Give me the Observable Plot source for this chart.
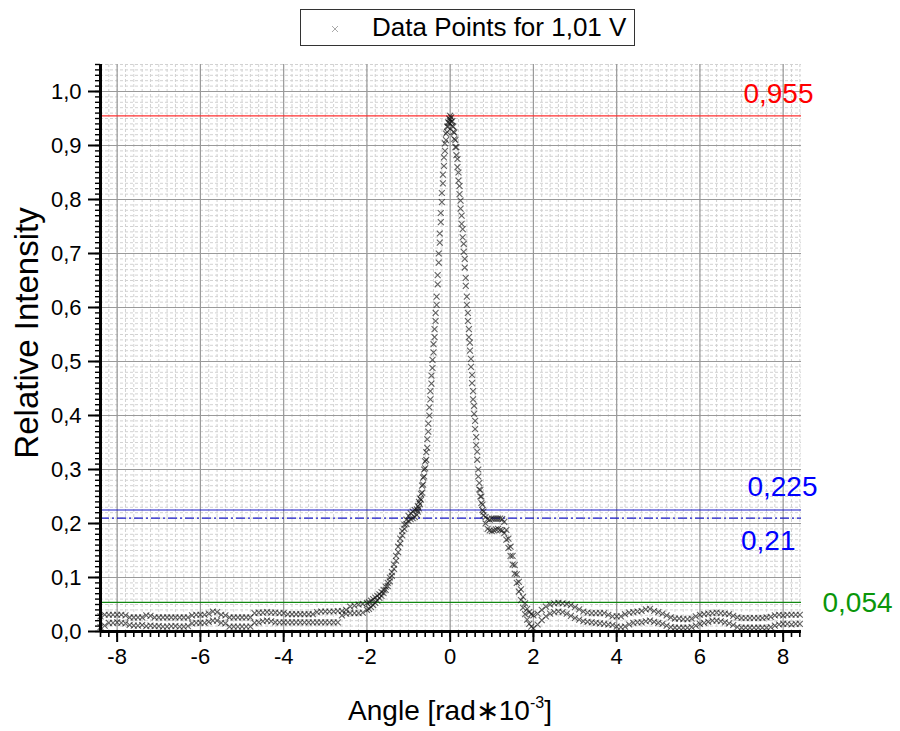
<!DOCTYPE html>
<html>
<head>
<meta charset="utf-8">
<script src="https://cdn.jsdelivr.net/npm/d3@7"></script>
<script src="https://cdn.jsdelivr.net/npm/@observablehq/plot@0.6"></script>
<style>
  body { margin: 0; background: #fff; }
  #wrap { position: relative; width: 900px; height: 731px; font-family: "Liberation Sans", Arial, sans-serif; }
  #legend { position: absolute; left: 300px; top: 9px; width: 333px; height: 35px; border: 1px solid #333; background: #fff; }
  #legend svg { position: absolute; left: 28px; top: 13px; }
  #legend span { position: absolute; left: 71px; top: 2px; font-size: 26px; line-height: 30px; color: #000; white-space: nowrap; }
</style>
</head>
<body>
<div id="wrap">
  <div id="legend"><svg width="12" height="12"><path d="M3,3L9,9M9,3L3,9" stroke="#aaa" stroke-width="1"/></svg><span id="legendText"></span></div>
</div>
<script>
// ---------- data ----------
const legendLabel = "Data Points for 1,01 V";

const leftAngles = [-8.4,-8.3,-8.2,-8.1,-8,-7.9,-7.8,-7.7,-7.6,-7.5,-7.4,-7.3,-7.2,-7.1,-7,-6.9,-6.8,-6.7,-6.6,-6.5,-6.4,-6.3,-6.2,-6.1,-6,-5.9,-5.8,-5.7,-5.6,-5.5,-5.4,-5.3,-5.2,-5.1,-5,-4.9,-4.8,-4.7,-4.6,-4.5,-4.4,-4.3,-4.2,-4.1,-4,-3.9,-3.8,-3.7,-3.6,-3.5,-3.4,-3.3,-3.2,-3.1,-3,-2.9,-2.8,-2.7,-2.6,-2.5,-2.4,-2.3,-2.2,-2.1,-2];
const leftUpper = [0.028,0.031,0.031,0.031,0.031,0.031,0.030,
  0.026,0.026,0.026,0.026, 0.030,0.029,
  0.026,0.026,0.026,0.026,0.026,0.026,0.026,0.026,0.026,
  0.030,0.031,0.031,0.031,0.033, 0.037,0.036,0.031,0.030,
  0.026,0.026,0.026,0.026,0.026,0.026,
  0.034,0.035,0.035,0.036,0.035,0.035,0.034,0.034,
  0.032,0.032,0.032,0.032,0.032,0.032,0.032,
  0.036,0.037,0.037,0.037,0.037,0.038,0.038,0.040,
  0.046,0.048,0.050,0.051, 0.053];
const leftLower = [0.008,0.011,
  0.016,0.016,0.017,0.016,0.015,
  0.012,0.011,0.011,0.012,
  0.010,0.011,0.010,0.010,0.009,0.009,0.010,0.010,0.009,0.009,0.010,
  0.015,0.016,0.016,0.016,0.018,0.020,0.020,0.016,0.015,
  0.009,0.009,0.009,0.009,0.009,0.009,
  0.016,0.017,0.019,0.020,0.019,0.017,0.017,0.017,0.017,0.017,0.017,0.017,0.017,0.017,
  0.017,0.017,0.017,0.017,0.017,0.017,0.017,
  0.030,0.033,0.034,0.034,0.034,0.035, 0.040];

const midLeftAngles = [-1.95,-1.9,-1.85,-1.8,-1.75,-1.7,-1.65,-1.6,-1.55,-1.5,-1.45,-1.4,-1.35,-1.3,-1.25,-1.2,-1.15,-1.1,-1.05,-1,-0.95,-0.9,-0.85,-0.8];
const midLeftUpper = [0.054,0.057,0.060,0.063,0.066,0.069,0.073,0.077,0.083,0.090,0.100,0.110,0.124,0.140,0.157,0.172,0.186,0.198,0.207,0.214,0.219,0.222,0.225,0.226];
const midLeftLower = [0.042,0.045,0.049,0.053,0.057,0.062,0.066,0.071,0.077,0.084,0.093,0.103,0.116,0.131,0.147,0.163,0.178,0.190,0.199,0.205,0.208,0.210,0.212,0.216];

const peakAngles = [-0.775,-0.75,-0.725,-0.7,-0.675,-0.65,-0.625,-0.6,-0.575,-0.55,-0.525,-0.5,-0.475,-0.45,-0.425,-0.4,-0.375,-0.35,-0.325,-0.3,-0.275,-0.25,-0.225,-0.2,-0.175,-0.15,-0.125,-0.1,-0.075,-0.05,-0.025,0,0.025,0.05,0.075,0.1,0.125,0.15,0.175,0.2,0.225,0.25,0.275,0.3,0.325,0.35,0.375,0.4,0.425,0.45,0.475,0.5,0.525,0.55,0.575,0.6,0.625,0.65,0.675,0.7,0.725,0.75,0.775];
const peakUpper = [0.232,0.240,0.246,0.255,0.270,0.285,0.300,0.315,0.332,0.356,
  0.385,0.415,0.445,0.474,0.503,0.532,0.560,0.590,0.620,0.660,
  0.700,0.737,0.775,0.812,0.846,0.878,0.904,0.922,0.935,0.943,
  0.950,0.955,0.952,0.945,0.935,0.924,0.910,0.897,0.875,0.850,
  0.825,0.798,0.770,0.745,0.718,0.690,0.655,0.620,0.590,0.560,
  0.535,0.505,0.475,0.445,0.418,0.390,0.360,0.333,0.300,0.275,
  0.262,0.250,0.235];
const peakLower = [0.222,0.228,0.236,0.244,0.257,0.272,0.287,0.302,0.318,0.340,
  0.370,0.400,0.430,0.459,0.488,0.517,0.545,0.575,0.605,0.643,
  0.683,0.720,0.758,0.795,0.830,0.862,0.890,0.910,0.925,0.935,
  0.942,0.948,0.944,0.936,0.925,0.912,0.897,0.882,0.860,0.835,
  0.810,0.783,0.755,0.730,0.703,0.674,0.640,0.605,0.575,0.545,
  0.520,0.490,0.460,0.430,0.403,0.375,0.345,0.318,0.287,0.263,
  0.250,0.238,0.225];

const midRightAngles = [0.8,0.85,0.9,0.95,1,1.05,1.1,1.15,1.2,1.25,1.3,1.35,1.4,1.45,1.5,1.55,1.6,1.65,1.7,1.75,1.8,1.85,1.9,1.95];
const midRightUpper = [0.222,0.212,0.208,0.207,0.209,0.209,0.209,0.209,0.209,0.208,0.203,0.188,0.172,0.157,0.140,0.123,0.106,0.092,0.078,0.064,0.052,0.042,0.036,0.032];
const midRightLower = [0.215,0.200,0.190,0.187,0.186,0.187,0.189,0.190,0.188,0.187,0.182,0.170,0.155,0.140,0.124,0.107,0.090,0.074,0.058,0.044,0.032,0.022,0.014,0.009];

const rightAngles = [2,2.1,2.2,2.3,2.4,2.5,2.6,2.7,2.8,2.9,3,3.1,3.2,3.3,3.4,3.5,3.6,3.7,3.8,3.9,4,4.1,4.2,4.3,4.4,4.5,4.6,4.7,4.8,4.9,5,5.1,5.2,5.3,5.4,5.5,5.6,5.7,5.8,5.9,6,6.1,6.2,6.3,6.4,6.5,6.6,6.7,6.8,6.9,7,7.1,7.2,7.3,7.4,7.5,7.6,7.7,7.8,7.9,8,8.1,8.2,8.3,8.4];
const rightUpper = [0.030,0.033,0.040,0.046,0.050,0.052,0.053,0.052,0.051,0.049,
  0.045,0.041,0.037,0.035,0.034,0.034,0.034,0.034,0.031,0.028,
  0.028,0.028,0.032,0.035,0.036,0.037,0.038,0.041,0.042,0.038,
  0.036,0.033,0.030,0.026,0.024,0.024,0.023,0.023,0.024,0.028,
  0.031,0.032,0.033,0.034,0.035,0.034,0.033,0.032,0.029,0.026,
  0.025,0.025,0.025,0.025,0.025,0.025,0.026,0.027,0.030,0.031,
  0.030,0.031,0.031,0.031,0.031];
const rightLower = [0.006,0.013,0.021,0.028,0.033,0.036,0.037,0.036,0.033,0.029,
  0.025,0.022,0.019,0.018,0.017,0.016,0.015,0.014,0.013,0.012,
  0.009,0.008,0.009,0.013,0.016,0.017,0.017,0.019,0.020,0.018,
  0.016,0.014,0.011,0.008,0.007,0.007,0.007,0.007,0.008,0.011,
  0.014,0.016,0.018,0.020,0.020,0.019,0.017,0.015,0.012,0.008,
  0.007,0.007,0.007,0.007,0.007,0.007,0.007,0.008,0.011,0.013,
  0.014,0.014,0.013,0.014,0.014];

// reference levels
const refLevels = [0.955, 0.225, 0.21, 0.054];
const refLabels = ["0,955", "0,225", "0,21", "0,054"];
const refLineColors = ["#ff3030", "#1818c8", "#1818c8", "#118811"];
const refTextColors = ["#ff0000", "#0000ff", "#0000ff", "#0a960a"];

// ticks
const xTicks = [-8, -6, -4, -2, 0, 2, 4, 6, 8];
const xTickLabels = ["-8", "-6", "-4", "-2", "0", "2", "4", "6", "8"];
const yTicks = [0, 0.1, 0.2, 0.3, 0.4, 0.5, 0.6, 0.7, 0.8, 0.9, 1.0];
const yTickLabels = ["0,0","0,1","0,2","0,3","0,4","0,5","0,6","0,7","0,8","0,9","1,0"];

// ---------- build ----------
const points = [];
function addTrack(angles, values) {
  angles.forEach((a, i) => points.push({angle: a, intensity: values[i]}));
}
addTrack(leftAngles, leftUpper); addTrack(leftAngles, leftLower);
addTrack(midLeftAngles, midLeftUpper); addTrack(midLeftAngles, midLeftLower);
addTrack(peakAngles, peakUpper); addTrack(peakAngles, peakLower);
addTrack(midRightAngles, midRightUpper); addTrack(midRightAngles, midRightLower);
addTrack(rightAngles, rightUpper); addTrack(rightAngles, rightLower);

const xDomain = [-8.4, 8.44];
const yDomain = [0, 1.05];
const minorX = d3.range(-42, 43).map(i => i / 5);
const minorY = d3.range(0, 106).map(i => i / 100);

const refLabelPos = [
  {dx: 12, dy: -22, anchor: "end"},
  {dx: 16, dy: -23, anchor: "end"},
  {dx: -6, dy: 23, anchor: "end"},
  {dx: 21, dy: 1, anchor: "start"}
];

const refMarks = [];
refLevels.forEach((lv, i) => {
  refMarks.push(Plot.ruleY([lv], {stroke: refLineColors[i], strokeWidth: 1.2, strokeDasharray: i === 2 ? "9,3,2,3" : null}));
  refMarks.push(Plot.text([lv], {
    y: d => d, text: () => refLabels[i], frameAnchor: "right",
    textAnchor: refLabelPos[i].anchor, dx: refLabelPos[i].dx, dy: refLabelPos[i].dy,
    fill: refTextColors[i], fontSize: 28
  }));
});

const chart = Plot.plot({
  width: 900, height: 731,
  marginLeft: 100, marginRight: 99, marginTop: 64, marginBottom: 100,
  style: {fontFamily: "'Liberation Sans', Arial, sans-serif", fontSize: "22px", color: "#000", background: "#fff", overflow: "visible"},
  x: {domain: xDomain, label: null},
  y: {domain: yDomain, label: null},
  marks: [
    Plot.ruleX(minorX, {stroke: "#d2d2d2", strokeDasharray: "3,2"}),
    Plot.ruleY(minorY, {stroke: "#d2d2d2", strokeDasharray: "3,2"}),
    Plot.gridX(xTicks, {stroke: "#9a9a9a", strokeOpacity: 1, strokeWidth: 1.2}),
    Plot.gridY(yTicks, {stroke: "#9a9a9a", strokeOpacity: 1, strokeWidth: 1.2}),
    ...refMarks,
    Plot.dot(points, {x: "angle", y: "intensity", symbol: "times", r: 2.8, stroke: "#111", strokeOpacity: 0.65, strokeWidth: 1.1}),
    Plot.axisX(minorX, {tickSize: 6, tickFormat: () => "", strokeWidth: 1.6, label: null}),
    Plot.axisX(xTicks, {tickSize: 11, tickPadding: 6, tickFormat: d => xTickLabels[xTicks.indexOf(d)], fontSize: 22, strokeWidth: 2, label: null}),
    Plot.axisY(minorY, {tickSize: 5, tickFormat: () => "", strokeWidth: 1.4, label: null}),
    Plot.axisY(yTicks, {tickSize: 12, tickPadding: 7, tickFormat: d => yTickLabels[yTicks.indexOf(d)], fontSize: 22, strokeWidth: 2, label: null}),
    Plot.ruleY([yDomain[0]], {stroke: "#000", strokeWidth: 3}),
    Plot.ruleX([xDomain[0]], {stroke: "#000", strokeWidth: 3})
  ]
});

// axis titles
const svg = d3.select(chart);
const xt = svg.append("text")
  .attr("x", 450).attr("y", 720).attr("text-anchor", "middle")
  .attr("font-size", 28).attr("fill", "#000")
  .attr("font-family", "'Liberation Sans', Arial, sans-serif");
xt.append("tspan").text("Angle [rad\u221710");
xt.append("tspan").attr("font-size", 16).attr("dy", -12).text("-3");
xt.append("tspan").attr("dy", 12).text("]");
svg.append("text")
  .attr("transform", "translate(38,333) rotate(-90)")
  .attr("text-anchor", "middle").attr("font-size", 33).attr("fill", "#000")
  .attr("font-family", "'Liberation Sans', Arial, sans-serif")
  .text("Relative Intensity");

const wrap = document.getElementById("wrap");
wrap.insertBefore(chart, wrap.firstChild);
document.getElementById("legendText").textContent = legendLabel;
</script>
</body>
</html>
